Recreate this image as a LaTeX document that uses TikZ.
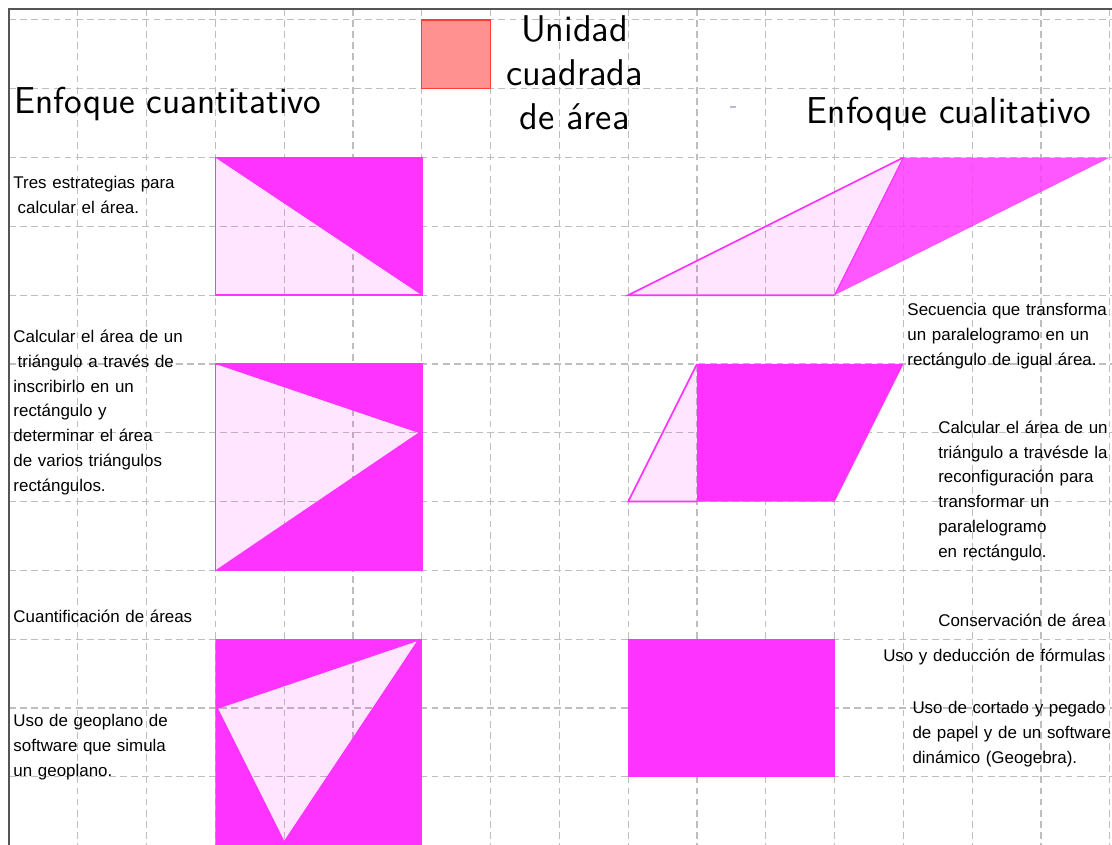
\documentclass[tikz,border=0pt]{standalone}
\usepackage{fontspec}
\newfontfamily\arialf{Liberation Sans}
\definecolor{mag}{RGB}{255,51,255}
\definecolor{magb}{RGB}{255,0,255}
\definecolor{gridc}{RGB}{190,190,190}
\definecolor{legfill}{RGB}{255,145,145}
\definecolor{legline}{RGB}{255,60,60}
\definecolor{framec}{RGB}{85,85,85}
\definecolor{speck}{RGB}{185,185,225}
\begin{document}
\begin{tikzpicture}[x=1cm,y=1cm,
  gridline/.style={gridc, line width=0.45pt, dash pattern=on 2.8pt off 1.8pt},
  lightfill/.style={fill=magb, fill opacity=0.1},
  edgeline/.style={draw=mag, line width=0.7pt},
  smalltext/.style={font=\arialf\fontsize{7}{10.25}\selectfont, inner sep=0pt, align=left, anchor=base west, text width=4cm},
  bigtext/.style={font=\sffamily\fontsize{15.5}{18}\selectfont, inner sep=0pt, anchor=base west},
  legtext/.style={font=\sffamily\fontsize{15.4}{18.2}\selectfont, inner sep=0pt, align=center, anchor=base, text width=3cm}]
\useasboundingbox (-0.131,0.290) rectangle (16.032,-11.988);
\fill[white] (-0.131,0.290) rectangle (16.032,-11.988);
% grid
\foreach \k in {1,...,16} \draw[gridline] (\k,0.16) -- (\k,-12.1);
\foreach \j in {0,...,11} \draw[gridline] (0,-\j) -- (16.1,-\j);
% frame
\draw[framec, line width=0.8pt] (0,-12.1) -- (0,0.16) -- (16.1,0.16);
% legend
\filldraw[fill=legfill, draw=legline, line width=0.5pt] (6,0) rectangle (7,-1);
\node[legtext] (leg) at (8.22,-0.319) {Unidad\\cuadrada\\de área};
\fill[speck] (10.48,-1.25) rectangle (10.57,-1.28);
% headings
\node[bigtext] (hq) at (0.073,-1.36) {Enfoque cuantitativo};
\node[bigtext] (hc) at (11.59,-1.50) {Enfoque cualitativo};
% row 1 left
\fill[mag] (3,-2) -- (6,-2) -- (6,-4) -- cycle;
\fill[lightfill] (3,-2) -- (6,-4) -- (3,-4) -- cycle;
\draw[edgeline] (3,-2) rectangle (6,-4);
% row 2 left
\fill[mag, even odd rule] (3,-5) rectangle (6,-8) (3,-5) -- (5.95,-6) -- (3,-8) -- cycle;
\fill[lightfill] (3,-5) -- (5.95,-6) -- (3,-8) -- cycle;
\draw[edgeline] (3,-5) rectangle (6,-8);
% row 3 left
\fill[mag, even odd rule] (3,-9) rectangle (6,-12.1) (5.93,-9.03) -- (3.04,-10.01) -- (4,-11.93) -- cycle;
\fill[lightfill] (5.93,-9.03) -- (3.04,-10.01) -- (4,-11.93) -- cycle;
% row 1 right
\fill[lightfill] (9,-4) -- (12,-4) -- (13,-2) -- cycle;
\fill[mag, fill opacity=0.82] (12,-4) -- (13,-2) -- (16,-2) -- cycle;
\draw[edgeline] (12,-4) -- (9,-4) -- (13,-2);
\draw[edgeline, line width=0.5pt] (12,-4) -- (13,-2);
% row 2 right
\fill[lightfill] (9,-7) -- (10,-5) -- (10,-7) -- cycle;
\fill[mag] (10,-5) -- (13,-5) -- (12,-7) -- (10,-7) -- cycle;
\draw[edgeline] (10,-7) -- (9,-7) -- (10,-5);
% row 3 right
\fill[mag] (9,-9) rectangle (12,-11);
% left texts
\node[smalltext] (l1) at (0.058,-2.453) {Tres estrategias para\\\hspace*{0.25em}calcular el área.};
\node[smalltext] (l2) at (0.058,-4.688) {Calcular el área de un\\\hspace*{0.25em}triángulo a través de\\inscribirlo en un\\rectángulo y\\determinar el área\\de varios triángulos\\rectángulos.};
\node[smalltext] (l3) at (0.058,-8.752) {Cuantificación de áreas};
\node[smalltext] (l4) at (0.058,-10.276) {Uso de geoplano de\\software que simula\\un geoplano.};
% right texts
\node[smalltext] (r1) at (13.052,-4.296) {Secuencia que transforma\\un paralelogramo en un\\rectángulo de igual área.};
\node[smalltext] (r2) at (13.50,-6.009) {Calcular el área de un\\triángulo a travésde la\\reconfiguración para\\transformar un\\paralelogramo\\en rectángulo.};
\node[smalltext] (r3) at (13.50,-8.81) {Conservación de área};
\node[smalltext] (r4) at (12.70,-9.318) {Uso y deducción de fórmulas};
\node[smalltext] (r5) at (13.125,-10.087) {Uso de cortado y pegado\\de papel y de un software\\dinámico (Geogebra).};
\end{tikzpicture}
\end{document}
